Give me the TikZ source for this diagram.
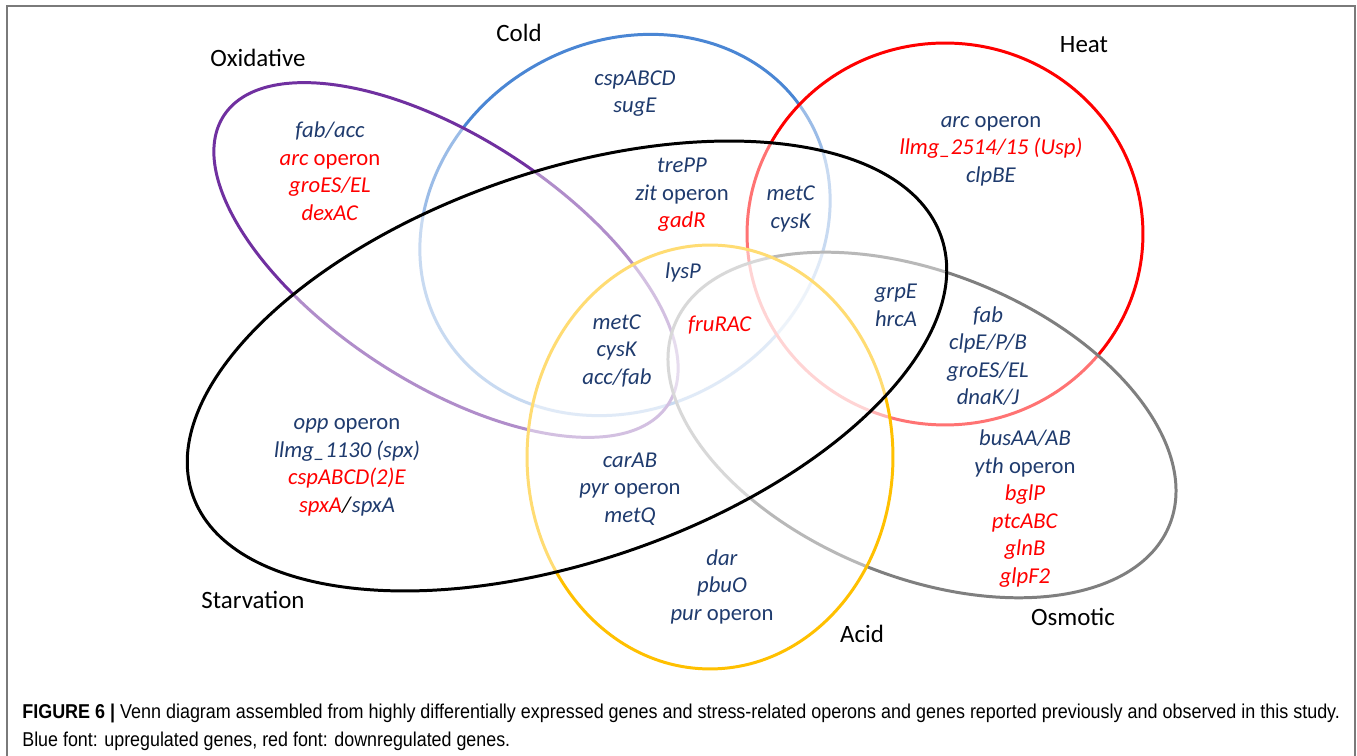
\documentclass[tikz,border=0pt]{standalone}
\usepackage{fontspec}
\setmainfont{Carlito}
\newfontfamily\capfont{Liberation Sans}
\usepackage{graphicx}
\definecolor{gblue}{HTML}{1F3B6E}
\definecolor{gred}{HTML}{FF0000}
\definecolor{ccold}{HTML}{4A86D4}
\definecolor{coxi}{HTML}{7030A0}
\definecolor{cheat}{HTML}{FF0000}
\definecolor{cosm}{HTML}{7F7F7F}
\definecolor{cacid}{HTML}{FFC000}
\definecolor{cframe}{HTML}{7A7A7A}
\definecolor{captxt}{HTML}{333333}
\newsavebox\capboxa
\newsavebox\capboxb
\begin{document}
\sbox\capboxa{\capfont\fontsize{11.4}{13}\selectfont\textbf{FIGURE 6 |} Venn diagram assembled from highly differentially expressed genes and stress-related operons and genes reported previously and observed in this study.}
\sbox\capboxb{\capfont\fontsize{11.4}{13}\selectfont Blue font: upregulated genes, red font: downregulated genes.}
\edef\capscalea{\fpeval{26.36cm/(\the\wd\capboxa)}}
\edef\capscaleb{\fpeval{9.76cm/(\the\wd\capboxb)}}
\begin{tikzpicture}[x=0.02cm,y=-0.02cm,
  setline/.style={line width=1.7pt, fill=white, fill opacity=0.45},
  setlabel/.style={font=\fontsize{14.2}{17}\selectfont, inner sep=0pt, text=black},
  genes/.style={font=\fontsize{12.9}{15.65}\selectfont, align=center, inner sep=0pt, text=gblue},
  capline/.style={anchor=west, inner sep=0pt, text=captxt}
]
\useasboundingbox (0,0) rectangle (1357,756);
\fill[white] (0,0) rectangle (1357,756);
\draw[cframe, line width=0.85pt] (7,760) -- (7,6) -- (1355,6) -- (1355,760);

% sets, bottom to top
\draw[setline, draw=ccold, rotate around={30:(625,225)}] (625,225) ellipse [x radius=4.24cm, y radius=3.66cm];
\draw[setline, draw=coxi, rotate around={-33:(446,260)}] (446,260) ellipse [x radius=5.3cm, y radius=2.46cm];
\draw[setline, draw=cheat] (945,234) ellipse [x radius=3.96cm, y radius=3.82cm];
\draw[setline, draw=cosm, rotate around={-22:(922,425)}] (922,425) ellipse [x radius=5.34cm, y radius=3.04cm];
\draw[setline, draw=cacid] (710,457) ellipse [x radius=3.66cm, y radius=4.24cm];
\draw[setline, draw=black, rotate around={19:(567,366)}] (567,366) ellipse [x radius=7.92cm, y radius=3.9cm];

% set labels
\node[setlabel] (lOxi) at (258,58) {Oxidative};
\node[setlabel] (lCold) at (519,33) {Cold};
\node[setlabel] (lHeat) at (1084,45) {Heat};
\node[setlabel] (lStarv) at (253,600) {Starvation};
\node[setlabel] (lAcid) at (862,634) {Acid};
\node[setlabel] (lOsm) at (1073,617) {Osmotic};

% gene groups
\node[genes] (gOxi) at (330,171) {\textit{fab/acc}\\\textcolor{gred}{\textit{arc} operon}\\\textcolor{gred}{\textit{groES/EL}}\\\textcolor{gred}{\textit{dexAC}}};
\node[genes] (gCold) at (635,93.5) {\textit{cspABCD}\\\textit{sugE}};
\node[genes] (gHeat) at (991,151) {\textit{arc} operon\\\textcolor{gred}{\textit{llmg\_2514/15 (Usp)}}\\\textit{clpBE}};
\node[genes] (gColdStarv) at (682,195) {\textit{trePP}\\\textit{zit} operon\\\textcolor{gred}{\textit{gadR}}};
\node[genes] (gColdHeat) at (791,209) {\textit{metC}\\\textit{cysK}};
\node[genes] (gLys) at (683,272) {\textit{lysP}};
\node[genes] (gFru) at (720,325) {\textcolor{gred}{\textit{fruRAC}}};
\node[genes] (gMet) at (617,350.5) {\textit{metC}\\\textit{cysK}\\\textit{acc/fab}};
\node[genes] (gGrp) at (896,305.5) {\textit{grpE}\\\textit{hrcA}};
\node[genes] (gFab) at (988,356) {\textit{fab}\\\textit{clpE/P/B}\\\textit{groES/EL}\\\textit{dnaK/J}};
\node[genes] (gBus) at (1025,508.5) {\textit{busAA/AB}\\\textit{yth} operon\\\textcolor{gred}{\textit{bglP}}\\\textcolor{gred}{\textit{ptcABC}}\\\textcolor{gred}{\textit{glnB}}\\\textcolor{gred}{\textit{glpF2}}};
\node[genes] (gOpp) at (347,467.5) {\textit{opp} operon\\\textit{llmg\_1130 (spx)}\\\textcolor{gred}{\textit{cspABCD(2)E}}\\\textcolor{gred}{\textit{spxA}}\textcolor{black}{\textit{/}}\textit{spxA}};
\node[genes] (gCar) at (630,489) {\textit{carAB}\\\textit{pyr} operon\\\textit{metQ}};
\node[genes] (gDar) at (722,586.5) {\textit{dar}\\\textit{pbuO}\\\textit{pur} operon};

% caption
\node[capline] (cap1) at (22,713) {\scalebox{\capscalea}[1]{\usebox\capboxa}};
\node[capline] (cap2) at (22,741) {\scalebox{\capscaleb}[1]{\usebox\capboxb}};
\end{tikzpicture}
\end{document}
